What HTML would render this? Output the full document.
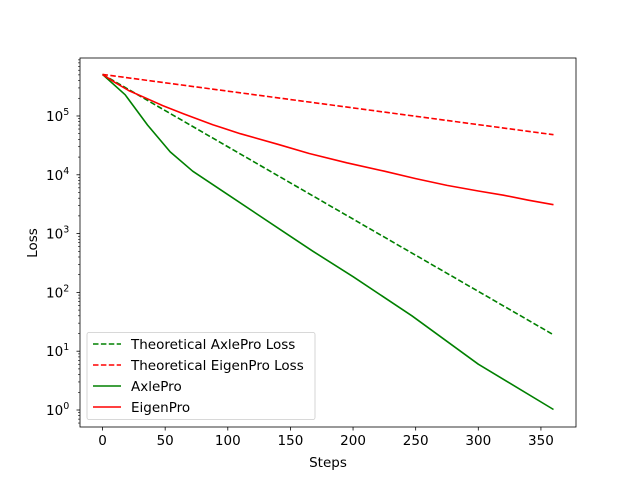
<!DOCTYPE html>
<html><head><meta charset="utf-8"><style>
body{margin:0;background:#fff;}
svg text{font-family:"DejaVu Sans","Liberation Sans",sans-serif;fill:#000;}
</style></head><body>
<svg id="chart" width="640" height="480" viewBox="0 0 640 480" xmlns="http://www.w3.org/2000/svg">
<rect width="640" height="480" fill="#fff"/>
<g id="plot"></g>
</svg>
<script>
const xTicks=[0,50,100,150,200,250,300,350];
const yTickExps=[0,1,2,3,4,5];
const theoAxleSteps=[0,360];
const theoAxleLoss=[5.1e5,19];
const theoEigenSteps=[0,360];
const theoEigenLoss=[5.1e5,4.8e4];
const axleSteps=[0,18,36,54,72,100,150,168,200,247,300,360];
const axleLoss=[5.1e5,2.3e5,7e4,2.45e4,1.15e4,4.6e3,9e2,5e2,1.85e2,40,6,1.02];
const eigenSteps=[0,10,21,35,48,65,88,110,140,165,195,225,250,275,300,320,340,360];
const eigenLoss=[5.1e5,3.7e5,2.7e5,2e5,1.5e5,1.08e5,7.1e4,5e4,3.3e4,2.3e4,1.6e4,1.15e4,8.6e3,6.6e3,5.3e3,4.5e3,3.7e3,3.1e3];
const L=80,R=576,T=58,B=427;
const xMin=-18,xMax=378,lMin=-0.289,lMax=5.986;
const sx=v=>L+(v-xMin)/(xMax-xMin)*(R-L);
const sy=v=>B-(Math.log10(v)-lMin)/(lMax-lMin)*(B-T);
const NS='http://www.w3.org/2000/svg';
const g=document.getElementById('plot');
function mk(t,a,p){const e=document.createElementNS(NS,t);for(const k in a)e.setAttribute(k,a[k]);(p||g).appendChild(e);return e;}
function line(xs,ys,color,dash,name){
  const d=xs.map((x,i)=>(i?'L':'M')+sx(x).toFixed(1)+','+sy(ys[i]).toFixed(1)).join('');
  const p=mk('path',{d:d,fill:'none',stroke:color,'stroke-width':1.6,'stroke-linejoin':'round'});
  if(dash)p.setAttribute('stroke-dasharray','5.5,2.4');
  
  
}
line(theoAxleSteps,theoAxleLoss,'green',true,'theoretical-axlepro-line');
line(theoEigenSteps,theoEigenLoss,'red',true,'theoretical-eigenpro-line');
line(axleSteps,axleLoss,'green',false,'axlepro-line');
line(eigenSteps,eigenLoss,'red',false,'eigenpro-line');
const fr=mk('rect',{x:L,y:T,width:R-L,height:B-T,fill:'none',stroke:'#000','stroke-width':0.8});


xTicks.forEach(v=>{
  const x=sx(v);
  mk('line',{x1:x,x2:x,y1:B,y2:B+3.5,stroke:'#000','stroke-width':0.8});
  const t=mk('text',{x:x,y:B+18,'font-size':13.5,'text-anchor':'middle'});t.textContent=v;
  
  
});
yTickExps.forEach(e=>{
  const y=sy(Math.pow(10,e));
  mk('line',{x1:L,x2:L-3.5,y1:y,y2:y,stroke:'#000','stroke-width':0.8});
  const t=mk('text',{x:46,y:y+5,'font-size':13.5});
  t.innerHTML='10<tspan dy="-6" font-size="9.5">'+e+'</tspan>';
  
  
  for(let m=2;m<10;m++){const v=m*Math.pow(10,e);const yy=sy(v);if(yy<T||yy>B)continue;
    mk('line',{x1:L,x2:L-2,y1:yy,y2:yy,stroke:'#000','stroke-width':0.6});}
  if(e===0){[0.6,0.7,0.8,0.9].forEach(v=>{const yy=sy(v);mk('line',{x1:L,x2:L-2,y1:yy,y2:yy,stroke:'#000','stroke-width':0.6});});}
});
const xt=mk('text',{x:328,y:467,'font-size':13.5,'text-anchor':'middle'});xt.textContent='Steps';


const yt=mk('text',{x:37,y:243,'font-size':13.5,'text-anchor':'middle',transform:'rotate(-90 37 243)'});yt.textContent='Loss';


const lg=mk('g',{});


mk('rect',{x:87,y:332.5,width:228,height:87,rx:2,fill:'#fff','fill-opacity':0.8,stroke:'#ccc','stroke-width':0.8},lg);
const items=[['Theoretical AxlePro Loss','green',true],['Theoretical EigenPro Loss','red',true],['AxlePro','green',false],['EigenPro','red',false]];
items.forEach((it,i)=>{
  const y=344+i*21;
  const l=mk('line',{x1:93,x2:121,y1:y,y2:y,stroke:it[1],'stroke-width':1.6},lg);
  if(it[2])l.setAttribute('stroke-dasharray','5.5,2.4');
  const t=mk('text',{x:131,y:y+5,'font-size':13.5},lg);t.textContent=it[0];
  
  
});
</script>
</body></html>
